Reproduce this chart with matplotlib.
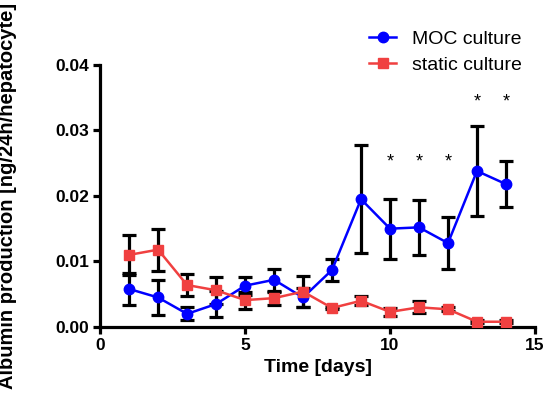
"""
Albumin production: MOC culture vs static culture.
"""

import matplotlib
matplotlib.use("Agg")
import matplotlib.pyplot as plt

plt.rcParams['font.family'] = ['Liberation Sans', 'DejaVu Sans']

# данные
days = [1, 2, 3, 4, 5, 6, 7, 8, 9, 10, 11, 12, 13, 14]
moc_mean = [0.0058, 0.0045, 0.0020, 0.0035, 0.0063, 0.0072, 0.0045, 0.0087,
            0.0195, 0.0150, 0.0152, 0.0128, 0.0238, 0.0218]
moc_err = [0.0025, 0.0027, 0.0010, 0.0020, 0.0014, 0.0017, 0.0014, 0.0017,
           0.0082, 0.0046, 0.0042, 0.0040, 0.0068, 0.0035]
static_mean = [0.0110, 0.0118, 0.0064, 0.0056, 0.0041, 0.0044, 0.0054, 0.0029,
               0.0040, 0.0023, 0.0030, 0.0027, 0.0008, 0.0008]
static_err = [0.0030, 0.0032, 0.0017, 0.0021, 0.0013, 0.0010, 0.0024, 0.0002,
              0.0007, 0.0006, 0.0009, 0.0003, 0.0002, 0.0002]
star_days = [10, 11, 12, 13, 14]
star_y = [0.0252, 0.0252, 0.0252, 0.0344, 0.0344]

blue = '#0000FF'
red = '#F04040'

fig = plt.figure(figsize=(5.47, 3.93), dpi=100)
ax = fig.add_axes([0.183, 0.168, 0.795, 0.667])

# планки погрешностей
ax.errorbar(days, moc_mean, yerr=moc_err, fmt='none', ecolor='black',
            elinewidth=2.3, capsize=4.7, capthick=2.3, zorder=2)
ax.errorbar(days, static_mean, yerr=static_err, fmt='none', ecolor='black',
            elinewidth=2.3, capsize=4.7, capthick=2.3, zorder=2)

ax.plot(days, moc_mean, color=blue, marker='o', markersize=7.5, lw=1.8,
        label='MOC culture', zorder=3)
ax.plot(days, static_mean, color=red, marker='s', markersize=7.5, lw=1.8,
        label='static culture', zorder=4)

for d, y in zip(star_days, star_y):
    ax.text(d, y, '*', ha='center', va='center', fontsize=13)

ax.set_xlim(0, 15)
ax.set_ylim(0, 0.04)
ax.set_xticks([0, 5, 10, 15])
ax.set_yticks([0, 0.01, 0.02, 0.03, 0.04])
ax.yaxis.set_major_formatter(matplotlib.ticker.FormatStrFormatter('%.2f'))

for s in ['top', 'right']:
    ax.spines[s].set_visible(False)
for s in ['left', 'bottom']:
    ax.spines[s].set_linewidth(2.3)
ax.tick_params(direction='out', length=5, width=2.3, labelsize=12.5, pad=3)
for lab in ax.get_xticklabels() + ax.get_yticklabels():
    lab.set_fontweight('bold')

ax.set_xlabel('Time [days]', fontsize=14, fontweight='bold', labelpad=4)
ax.set_ylabel('Albumin production [ng/24h/hepatocyte]', fontsize=14.5,
              fontweight='bold')
ax.yaxis.set_label_coords(-0.19, 0.5)

fig.legend(loc='upper left', bbox_to_anchor=(0.675, 0.922), frameon=False,
           fontsize=14, handlelength=1.4, handletextpad=0.8, labelspacing=0.4,
           borderpad=0, borderaxespad=0)

fig.savefig('out.png', dpi=100)
